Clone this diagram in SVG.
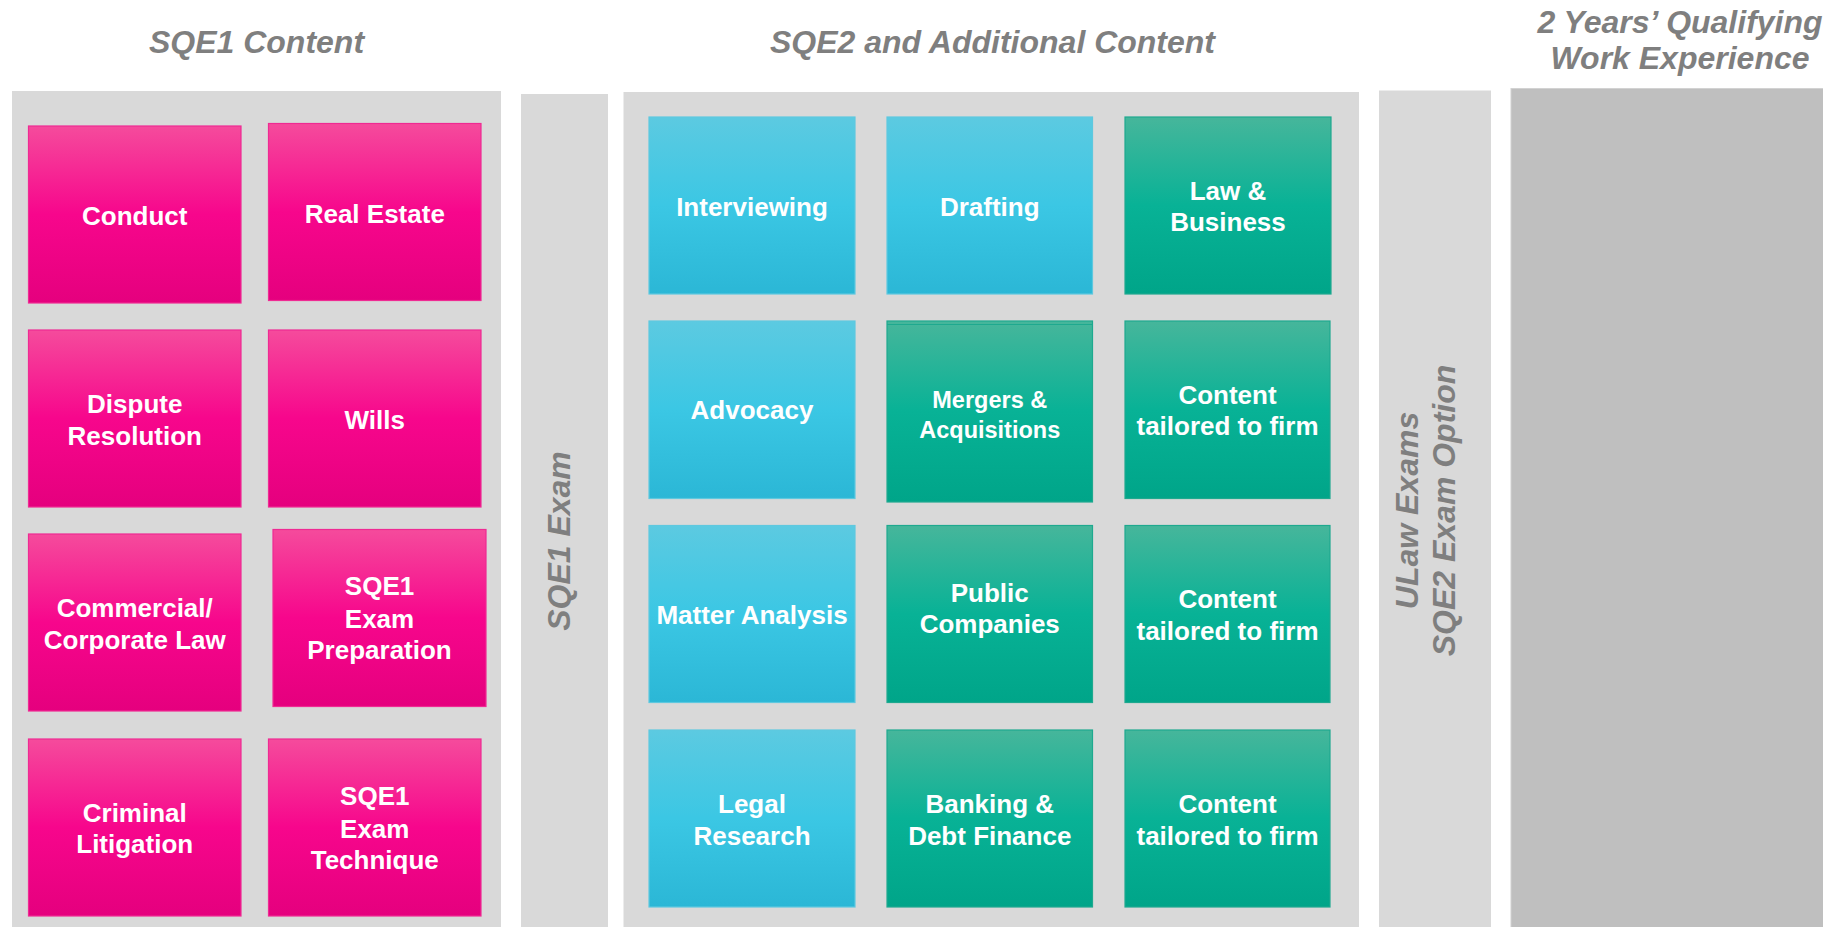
<svg xmlns="http://www.w3.org/2000/svg" width="1823" height="927" viewBox="0 0 1823 927">
<defs>
<linearGradient id="gPink" x1="0" y1="0" x2="0" y2="1">
<stop offset="0" stop-color="#f54b9c"/>
<stop offset="0.5" stop-color="#f7068c"/>
<stop offset="1" stop-color="#e5007e"/>
</linearGradient>
<linearGradient id="gCyan" x1="0" y1="0" x2="0" y2="1">
<stop offset="0" stop-color="#5ccae1"/>
<stop offset="0.5" stop-color="#3bc7e4"/>
<stop offset="1" stop-color="#2bb7d6"/>
</linearGradient>
<linearGradient id="gTeal" x1="0" y1="0" x2="0" y2="1">
<stop offset="0" stop-color="#46b69b"/>
<stop offset="0.5" stop-color="#08b296"/>
<stop offset="1" stop-color="#00a589"/>
</linearGradient>
<style>
.panel{fill:#d9d9d9}
.dark{fill:#bfbfbf;stroke:#d2d2d2;stroke-width:1}
.title{font-family:"Liberation Sans",Arial,sans-serif;font-weight:bold;font-style:italic;font-size:32px;fill:#7f7f7f;text-anchor:middle}
.pink{fill:url(#gPink);stroke:#ef2a93;stroke-width:1.2}
.cyan{fill:url(#gCyan);stroke:#5ec8df;stroke-width:1.2}
.teal{fill:url(#gTeal);stroke:#1ea98f;stroke-width:1.2}
.lbl{font-family:"Liberation Sans",Arial,sans-serif;font-weight:bold;font-size:26px;fill:#ffffff;text-anchor:middle}
.sm{font-size:23.5px}
</style>
</defs>
<rect width="1823" height="927" fill="#ffffff"/>

<g id="titles">
<text class="title" x="256.5" y="53">SQE1 Content</text>
<text class="title" x="992.5" y="53">SQE2 and Additional Content</text>
<text class="title" x="1680" y="33">2 Years’ Qualifying</text>
<text class="title" x="1680" y="69">Work Experience</text>
</g>

<g id="panels">
<rect id="sqe1-panel" class="panel" x="12" y="91" width="489" height="836"/>
<g id="sqe1-exam">
<rect class="panel" x="521" y="94" width="87" height="833"/>
<text class="title" transform="translate(570,541) rotate(-90)" x="0" y="0">SQE1 Exam</text>
</g>
<rect id="sqe2-panel" class="panel" x="623.5" y="92" width="735.5" height="835"/>
<g id="ulaw-exams">
<rect class="panel" x="1379" y="90.5" width="112" height="836.5"/>
<text class="title" transform="translate(1418,510.5) rotate(-90)"><tspan x="0" y="0">ULaw Exams</tspan><tspan x="0" y="37">SQE2 Exam Option</tspan></text>
</g>
<rect id="work-experience" class="dark" x="1511" y="88.5" width="313" height="840"/>
</g>

<g id="conduct"><rect class="pink" x="28.5" y="126" width="212.5" height="177"/><text class="lbl" x="134.75" y="225">Conduct</text></g>
<g id="real-estate"><rect class="pink" x="268.5" y="123.5" width="212.5" height="177"/><text class="lbl" x="374.75" y="223">Real Estate</text></g>
<g id="dispute-resolution"><rect class="pink" x="28.5" y="330" width="212.5" height="177"/><text class="lbl" x="134.75"><tspan x="134.75" y="413">Dispute</tspan><tspan x="134.75" y="444.5">Resolution</tspan></text></g>
<g id="wills"><rect class="pink" x="268.5" y="330" width="212.5" height="177"/><text class="lbl" x="374.75" y="429">Wills</text></g>
<g id="commercial-corporate-law"><rect class="pink" x="28.5" y="534" width="212.5" height="177"/><text class="lbl"><tspan x="134.75" y="617">Commercial/</tspan><tspan x="134.75" y="649">Corporate Law</tspan></text></g>
<g id="sqe1-exam-preparation"><rect class="pink" x="273" y="529.5" width="213" height="177"/><text class="lbl"><tspan x="379.5" y="595">SQE1</tspan><tspan x="379.5" y="627.5">Exam</tspan><tspan x="379.5" y="659">Preparation</tspan></text></g>
<g id="criminal-litigation"><rect class="pink" x="28.5" y="739" width="212.5" height="177"/><text class="lbl"><tspan x="134.75" y="821.5">Criminal</tspan><tspan x="134.75" y="853">Litigation</tspan></text></g>
<g id="sqe1-exam-technique"><rect class="pink" x="268.5" y="739" width="212.5" height="177"/><text class="lbl"><tspan x="374.75" y="805">SQE1</tspan><tspan x="374.75" y="837.5">Exam</tspan><tspan x="374.75" y="869">Technique</tspan></text></g>

<g id="interviewing"><rect class="cyan" x="649" y="117" width="206" height="177"/><text class="lbl" x="752" y="216">Interviewing</text></g>
<g id="drafting"><rect class="cyan" x="887" y="117" width="205.5" height="177"/><text class="lbl" x="989.75" y="216">Drafting</text></g>
<g id="law-business"><rect class="teal" x="1125" y="117" width="206" height="177"/><text class="lbl"><tspan x="1228" y="200">Law &amp;</tspan><tspan x="1228" y="231">Business</tspan></text></g>

<g id="advocacy"><rect class="cyan" x="649" y="321" width="206" height="177.5"/><text class="lbl" x="752" y="419">Advocacy</text></g>
<g id="mergers-acquisitions"><rect class="teal" x="887" y="321" width="205.5" height="181"/><line x1="887" y1="324.5" x2="1092.5" y2="324.5" stroke="#1ea98f" stroke-width="1"/><text class="lbl sm"><tspan x="989.75" y="408">Mergers &amp;</tspan><tspan x="989.75" y="438">Acquisitions</tspan></text></g>
<g id="content-tailored-1"><rect class="teal" x="1125" y="321" width="205" height="177.5"/><text class="lbl"><tspan x="1227.5" y="403.5">Content</tspan><tspan x="1227.5" y="435">tailored to firm</tspan></text></g>

<g id="matter-analysis"><rect class="cyan" x="649" y="525.5" width="206" height="177"/><text class="lbl" x="752" y="624">Matter Analysis</text></g>
<g id="public-companies"><rect class="teal" x="887" y="525.5" width="205.5" height="177"/><text class="lbl"><tspan x="989.75" y="602">Public</tspan><tspan x="989.75" y="633">Companies</tspan></text></g>
<g id="content-tailored-2"><rect class="teal" x="1125" y="525.5" width="205" height="177"/><text class="lbl"><tspan x="1227.5" y="607.5">Content</tspan><tspan x="1227.5" y="640">tailored to firm</tspan></text></g>

<g id="legal-research"><rect class="cyan" x="649" y="730" width="206" height="177"/><text class="lbl"><tspan x="752" y="813">Legal</tspan><tspan x="752" y="844.5">Research</tspan></text></g>
<g id="banking-debt-finance"><rect class="teal" x="887" y="730" width="205.5" height="177"/><text class="lbl"><tspan x="989.75" y="813">Banking &amp;</tspan><tspan x="989.75" y="844.5">Debt Finance</tspan></text></g>
<g id="content-tailored-3"><rect class="teal" x="1125" y="730" width="205" height="177"/><text class="lbl"><tspan x="1227.5" y="813">Content</tspan><tspan x="1227.5" y="844.5">tailored to firm</tspan></text></g>

<g id="connectors"></g>
</svg>
